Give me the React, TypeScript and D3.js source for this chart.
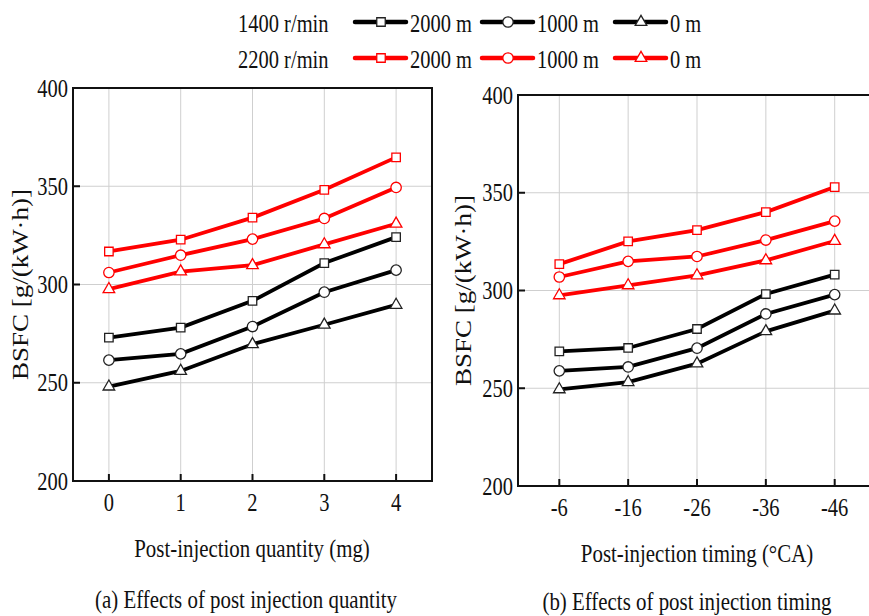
import React from "react";
import * as d3 from "d3";

// 横轴类别
const quantityCats = ["0", "1", "2", "3", "4"];
const timingCats = ["-6", "-16", "-26", "-36", "-46"];
const yTicks = [200, 250, 300, 350, 400];

// (a) 后喷油量 — BSFC
const qty1400_2000 = [273.0, 278.1, 291.7, 310.9, 324.1];
const qty1400_1000 = [261.5, 264.7, 278.6, 296.1, 307.3];
const qty1400_0 = [248.0, 256.0, 269.6, 279.5, 289.6];
const qty2200_2000 = [316.8, 322.8, 334.0, 348.2, 364.7];
const qty2200_1000 = [306.1, 314.9, 323.1, 333.6, 349.4];
const qty2200_0 = [297.6, 306.6, 309.8, 320.4, 330.9];

// (b) 后喷正时 — BSFC
const tim1400_2000 = [268.9, 270.6, 280.3, 298.2, 308.1];
const tim1400_1000 = [258.9, 260.9, 270.5, 288.0, 297.9];
const tim1400_0 = [249.4, 253.1, 262.6, 279.1, 289.7];
const tim2200_2000 = [313.5, 325.1, 330.9, 340.1, 352.9];
const tim2200_1000 = [306.9, 314.9, 317.4, 325.8, 335.5];
const tim2200_0 = [297.5, 302.6, 307.7, 315.4, 325.3];

const FONT = "'Liberation Serif', 'Times New Roman', serif";
const RED = "#ff0000";

const symbols = {
  square: d3.symbol(d3.symbolSquare, 72)(),
  circle: d3.symbol(d3.symbolCircle, 85)(),
  triangle: d3.symbol(d3.symbolTriangle, 58)(),
};

type Shape = keyof typeof symbols;

// 图中文字都被横向压缩
const T = ({ x, y, size = 25, anchor = "start", rotate = 0, children }: any) => (
  <text
    transform={`translate(${x},${y}) scale(0.82,1)${rotate ? ` rotate(${rotate})` : ""}`}
    fontFamily={FONT}
    fontSize={size}
    textAnchor={anchor}
    fill="#111"
  >
    {children}
  </text>
);

const Marker = ({ x, y, shape, color }: { x: number; y: number; shape: Shape; color: string }) => (
  <path
    d={symbols[shape]}
    transform={`translate(${x},${y})`}
    fill="#fff"
    stroke={color === "#000" ? "#222" : color}
    strokeWidth={1.3}
  />
);

const Panel = ({ cats, series, box, padding, xTitle, caption, yTitleX }: any) => {
  const x = d3.scalePoint<string>().domain(cats).range([box.left, box.right]).padding(padding);
  const y = d3.scaleLinear().domain([200, 400]).range([box.bottom, box.top]);
  const line = d3
    .line<number>()
    .x((_, i) => x(cats[i]) as number)
    .y((d) => y(d));

  return (
    <g>
      {/* 网格 */}
      {yTicks.map((t) => (
        <line key={"gy" + t} x1={box.left} x2={box.right} y1={y(t)} y2={y(t)} stroke="#cfcfcf" strokeWidth={1} />
      ))}
      {cats.map((c: string) => (
        <line key={"gx" + c} x1={x(c)} x2={x(c)} y1={box.top} y2={box.bottom} stroke="#cfcfcf" strokeWidth={1} />
      ))}
      {/* 边框 */}
      <rect
        x={box.left}
        y={box.top}
        width={box.right - box.left}
        height={box.bottom - box.top}
        fill="none"
        stroke="#111"
        strokeWidth={2}
      />
      {/* 刻度 */}
      {yTicks.map((t) => (
        <g key={"ty" + t}>
          <line x1={box.left} x2={box.left + 7} y1={y(t)} y2={y(t)} stroke="#111" strokeWidth={2} />
          <T x={box.left - 5} y={y(t) + 8.5} anchor="end">
            {t}
          </T>
        </g>
      ))}
      {cats.map((c: string) => (
        <g key={"tx" + c}>
          <line x1={x(c)} x2={x(c)} y1={box.bottom} y2={box.bottom - 7} stroke="#111" strokeWidth={2} />
          <T x={x(c)} y={box.bottom + 30} anchor="middle">
            {c}
          </T>
        </g>
      ))}
      {/* 数据线 */}
      {series.map((s: any, i: number) => (
        <path key={"l" + i} d={line(s.values) as string} fill="none" stroke={s.color} strokeWidth={3.8} />
      ))}
      {series.map((s: any, i: number) =>
        s.values.map((v: number, j: number) => (
          <Marker key={`m${i}-${j}`} x={x(cats[j]) as number} y={y(v)} shape={s.shape} color={s.color} />
        ))
      )}
      {/* 标题 */}
      <T x={yTitleX} y={(box.top + box.bottom) / 2} anchor="middle" rotate={-90} size={27}>
        BSFC [g/(kW·h)]
      </T>
      <T x={xTitle.x} y={xTitle.y} anchor="middle" size={25.5}>
        {xTitle.text}
      </T>
      <T x={caption.x} y={caption.y} anchor="middle" size={25.5}>
        {caption.text}
      </T>
    </g>
  );
};

const mk = (v2000: number[], v1000: number[], v0: number[], color: string) => [
  { values: v2000, shape: "square", color },
  { values: v1000, shape: "circle", color },
  { values: v0, shape: "triangle", color },
];

const legendRows = [
  { label: "1400 r/min", color: "#000", y: 22 },
  { label: "2200 r/min", color: RED, y: 58 },
];
const legendItems: { label: string; shape: Shape; x0: number }[] = [
  { label: "2000 m", shape: "square", x0: 355 },
  { label: "1000 m", shape: "circle", x0: 482 },
  { label: "0 m", shape: "triangle", x0: 615 },
];

export default function App() {
  return (
    <svg width={869} height={616} style={{ position: "absolute", left: 0, top: 0, background: "#fff" }}>
      {legendRows.map((r) => (
        <g key={r.label}>
          <T x={238} y={r.y + 9.5}>
            {r.label}
          </T>
          {legendItems.map((it) => (
            <g key={it.label}>
              <line
                x1={it.x0}
                x2={it.x0 + 51}
                y1={r.y}
                y2={r.y}
                stroke={r.color}
                strokeWidth={4.5}
                strokeLinecap="round"
              />
              <Marker x={it.x0 + 26} y={r.y} shape={it.shape} color={r.color} />
              <T x={it.x0 + 55} y={r.y + 9.5}>
                {it.label}
              </T>
            </g>
          ))}
        </g>
      ))}

      <Panel
        cats={quantityCats}
        padding={0.5}
        box={{ left: 73, right: 432, top: 88, bottom: 481 }}
        yTitleX={28}
        series={[...mk(qty1400_2000, qty1400_1000, qty1400_0, "#000"), ...mk(qty2200_2000, qty2200_1000, qty2200_0, RED)]}
        xTitle={{ text: "Post-injection quantity (mg)", x: 252, y: 556.5 }}
        caption={{ text: "(a) Effects of post injection quantity", x: 246, y: 608 }}
      />
      <Panel
        cats={timingCats}
        padding={0.6}
        box={{ left: 518, right: 876, top: 95, bottom: 486 }}
        yTitleX={471}
        series={[...mk(tim1400_2000, tim1400_1000, tim1400_0, "#000"), ...mk(tim2200_2000, tim2200_1000, tim2200_0, RED)]}
        xTitle={{ text: "Post-injection timing (°CA)", x: 697, y: 561.5 }}
        caption={{ text: "(b) Effects of post injection timing", x: 687, y: 610 }}
      />
    </svg>
  );
}
